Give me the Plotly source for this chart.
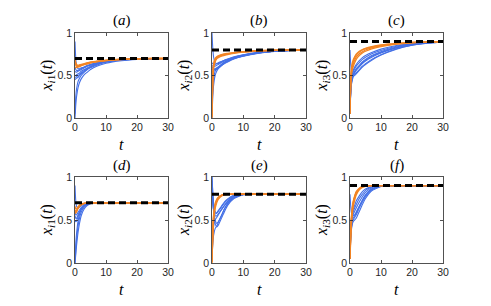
import plotly.graph_objects as go

# time samples
T = [0, 0.25, 0.5, 1, 1.5, 2, 3, 4, 5, 7, 10, 15, 20, 25, 30]
X_TICKS = [0, 10, 20, 30]
Y_TICKS = [0, 0.5, 1]
Y_TICK_LABELS = ["0", "0.5", "1"]
PANEL_TITLES = ["a", "b", "c", "d", "e", "f"]
Y_LABELS = ["1", "2", "3", "1", "2", "3"]
TARGETS = [0.7, 0.8, 0.9, 0.7, 0.8, 0.9]

# panel (a)
A_blue = [
    [0.00, 0.15, 0.25, 0.36, 0.42, 0.46, 0.51, 0.54, 0.57, 0.61, 0.645, 0.675, 0.69, 0.697, 0.70],
    [0.05, 0.25, 0.34, 0.43, 0.47, 0.50, 0.54, 0.57, 0.59, 0.62, 0.655, 0.68, 0.692, 0.698, 0.70],
    [0.45, 0.46, 0.47, 0.48, 0.50, 0.52, 0.55, 0.58, 0.60, 0.63, 0.66, 0.683, 0.694, 0.698, 0.70],
    [0.50, 0.50, 0.51, 0.52, 0.53, 0.55, 0.57, 0.59, 0.61, 0.64, 0.665, 0.686, 0.695, 0.699, 0.70],
    [0.55, 0.54, 0.54, 0.55, 0.56, 0.57, 0.59, 0.61, 0.62, 0.645, 0.67, 0.688, 0.696, 0.699, 0.70],
    [0.90, 0.70, 0.62, 0.58, 0.58, 0.59, 0.60, 0.62, 0.63, 0.65, 0.67, 0.689, 0.697, 0.70, 0.70],
    [0.60, 0.57, 0.56, 0.56, 0.57, 0.58, 0.60, 0.615, 0.63, 0.65, 0.672, 0.69, 0.697, 0.70, 0.70],
    [0.48, 0.48, 0.49, 0.50, 0.51, 0.53, 0.56, 0.58, 0.60, 0.635, 0.662, 0.684, 0.694, 0.698, 0.70],
]
A_orange = [
    [0.70, 0.64, 0.62, 0.61, 0.62, 0.625, 0.635, 0.645, 0.655, 0.665, 0.678, 0.69, 0.697, 0.70, 0.70],
    [0.65, 0.62, 0.61, 0.605, 0.61, 0.62, 0.63, 0.64, 0.65, 0.663, 0.676, 0.689, 0.696, 0.70, 0.70],
    [0.60, 0.59, 0.595, 0.60, 0.605, 0.615, 0.628, 0.638, 0.648, 0.66, 0.675, 0.688, 0.696, 0.699, 0.70],
    [0.68, 0.65, 0.63, 0.62, 0.625, 0.63, 0.64, 0.65, 0.66, 0.668, 0.68, 0.691, 0.697, 0.70, 0.70],
]

# panel (b)
B_blue = [
    [0.00, 0.25, 0.38, 0.50, 0.55, 0.58, 0.62, 0.65, 0.67, 0.70, 0.73, 0.765, 0.785, 0.795, 0.80],
    [1.00, 0.82, 0.72, 0.65, 0.64, 0.64, 0.66, 0.68, 0.69, 0.715, 0.74, 0.77, 0.787, 0.796, 0.80],
    [0.60, 0.59, 0.58, 0.58, 0.59, 0.60, 0.63, 0.655, 0.675, 0.705, 0.735, 0.768, 0.786, 0.795, 0.80],
    [0.62, 0.61, 0.61, 0.61, 0.62, 0.63, 0.65, 0.67, 0.685, 0.71, 0.74, 0.77, 0.787, 0.796, 0.80],
    [0.58, 0.57, 0.57, 0.57, 0.58, 0.59, 0.62, 0.645, 0.665, 0.70, 0.73, 0.765, 0.785, 0.795, 0.80],
    [0.05, 0.35, 0.45, 0.55, 0.58, 0.60, 0.63, 0.655, 0.675, 0.705, 0.735, 0.767, 0.786, 0.795, 0.80],
    [0.65, 0.64, 0.63, 0.63, 0.64, 0.65, 0.665, 0.68, 0.695, 0.72, 0.745, 0.772, 0.788, 0.796, 0.80],
    [0.55, 0.55, 0.55, 0.56, 0.57, 0.585, 0.615, 0.64, 0.66, 0.695, 0.728, 0.763, 0.784, 0.794, 0.80],
]
B_orange = [
    [0.00, 0.45, 0.60, 0.68, 0.71, 0.72, 0.735, 0.745, 0.752, 0.765, 0.777, 0.79, 0.796, 0.799, 0.80],
    [0.02, 0.48, 0.62, 0.69, 0.715, 0.725, 0.74, 0.75, 0.757, 0.768, 0.779, 0.791, 0.797, 0.799, 0.80],
    [0.04, 0.42, 0.58, 0.66, 0.695, 0.71, 0.727, 0.738, 0.747, 0.76, 0.774, 0.788, 0.795, 0.799, 0.80],
    [0.01, 0.50, 0.63, 0.70, 0.72, 0.73, 0.745, 0.755, 0.76, 0.77, 0.78, 0.792, 0.797, 0.80, 0.80],
]

# panel (c)
C_blue = [
    [0.80, 0.62, 0.55, 0.50, 0.50, 0.52, 0.56, 0.60, 0.63, 0.68, 0.74, 0.81, 0.855, 0.88, 0.895],
    [0.05, 0.30, 0.40, 0.48, 0.51, 0.53, 0.57, 0.61, 0.64, 0.69, 0.745, 0.815, 0.857, 0.88, 0.895],
    [0.05, 0.32, 0.42, 0.50, 0.53, 0.56, 0.60, 0.64, 0.67, 0.715, 0.765, 0.825, 0.862, 0.883, 0.896],
    [0.05, 0.34, 0.44, 0.52, 0.55, 0.58, 0.62, 0.66, 0.69, 0.735, 0.78, 0.835, 0.867, 0.886, 0.897],
    [0.05, 0.36, 0.46, 0.54, 0.58, 0.61, 0.65, 0.69, 0.715, 0.755, 0.795, 0.845, 0.872, 0.888, 0.898],
    [0.05, 0.38, 0.48, 0.56, 0.60, 0.63, 0.675, 0.71, 0.735, 0.77, 0.81, 0.852, 0.876, 0.89, 0.898],
    [0.05, 0.33, 0.43, 0.51, 0.54, 0.57, 0.61, 0.65, 0.68, 0.725, 0.772, 0.83, 0.865, 0.885, 0.896],
]
C_orange = [
    [0.05, 0.45, 0.58, 0.66, 0.71, 0.74, 0.775, 0.80, 0.815, 0.835, 0.855, 0.875, 0.888, 0.895, 0.898],
    [0.05, 0.48, 0.60, 0.68, 0.72, 0.75, 0.785, 0.805, 0.82, 0.84, 0.86, 0.878, 0.89, 0.896, 0.899],
    [0.05, 0.42, 0.55, 0.63, 0.68, 0.715, 0.755, 0.78, 0.80, 0.825, 0.848, 0.872, 0.886, 0.894, 0.898],
    [0.05, 0.40, 0.52, 0.60, 0.65, 0.69, 0.735, 0.765, 0.785, 0.812, 0.84, 0.868, 0.884, 0.893, 0.897],
]

# panel (d)
D_blue = [
    [0.00, 0.10, 0.20, 0.36, 0.47, 0.55, 0.63, 0.67, 0.69, 0.70, 0.70, 0.70, 0.70, 0.70, 0.70],
    [0.00, 0.15, 0.27, 0.43, 0.53, 0.59, 0.65, 0.68, 0.695, 0.70, 0.70, 0.70, 0.70, 0.70, 0.70],
    [0.05, 0.22, 0.34, 0.49, 0.57, 0.62, 0.665, 0.685, 0.695, 0.70, 0.70, 0.70, 0.70, 0.70, 0.70],
    [0.90, 0.72, 0.66, 0.64, 0.65, 0.665, 0.685, 0.695, 0.70, 0.70, 0.70, 0.70, 0.70, 0.70, 0.70],
    [0.55, 0.52, 0.52, 0.56, 0.60, 0.63, 0.67, 0.69, 0.697, 0.70, 0.70, 0.70, 0.70, 0.70, 0.70],
    [0.50, 0.48, 0.49, 0.54, 0.59, 0.62, 0.665, 0.687, 0.696, 0.70, 0.70, 0.70, 0.70, 0.70, 0.70],
    [0.60, 0.56, 0.56, 0.59, 0.62, 0.645, 0.675, 0.69, 0.698, 0.70, 0.70, 0.70, 0.70, 0.70, 0.70],
]
D_orange = [
    [0.62, 0.60, 0.61, 0.645, 0.67, 0.68, 0.693, 0.698, 0.70, 0.70, 0.70, 0.70, 0.70, 0.70, 0.70],
    [0.58, 0.58, 0.595, 0.635, 0.66, 0.675, 0.69, 0.697, 0.70, 0.70, 0.70, 0.70, 0.70, 0.70, 0.70],
    [0.66, 0.63, 0.63, 0.655, 0.675, 0.685, 0.695, 0.699, 0.70, 0.70, 0.70, 0.70, 0.70, 0.70, 0.70],
    [0.60, 0.59, 0.60, 0.64, 0.665, 0.678, 0.692, 0.698, 0.70, 0.70, 0.70, 0.70, 0.70, 0.70, 0.70],
]

# panel (e)
E_blue = [
    [1.00, 0.80, 0.65, 0.50, 0.46, 0.48, 0.55, 0.63, 0.69, 0.76, 0.796, 0.80, 0.80, 0.80, 0.80],
    [0.95, 0.75, 0.60, 0.46, 0.42, 0.44, 0.52, 0.60, 0.67, 0.75, 0.794, 0.80, 0.80, 0.80, 0.80],
    [0.90, 0.72, 0.62, 0.55, 0.55, 0.57, 0.62, 0.67, 0.715, 0.775, 0.798, 0.80, 0.80, 0.80, 0.80],
    [1.00, 0.82, 0.70, 0.60, 0.58, 0.60, 0.65, 0.70, 0.735, 0.785, 0.799, 0.80, 0.80, 0.80, 0.80],
    [0.05, 0.30, 0.42, 0.50, 0.53, 0.56, 0.62, 0.67, 0.71, 0.77, 0.797, 0.80, 0.80, 0.80, 0.80],
    [0.85, 0.70, 0.62, 0.57, 0.58, 0.61, 0.66, 0.71, 0.745, 0.787, 0.799, 0.80, 0.80, 0.80, 0.80],
    [0.05, 0.22, 0.32, 0.40, 0.43, 0.47, 0.55, 0.63, 0.69, 0.76, 0.795, 0.80, 0.80, 0.80, 0.80],
]
E_orange = [
    [0.00, 0.35, 0.52, 0.66, 0.72, 0.755, 0.785, 0.795, 0.799, 0.80, 0.80, 0.80, 0.80, 0.80, 0.80],
    [0.02, 0.40, 0.56, 0.69, 0.74, 0.765, 0.79, 0.797, 0.80, 0.80, 0.80, 0.80, 0.80, 0.80, 0.80],
    [0.04, 0.30, 0.48, 0.63, 0.70, 0.74, 0.778, 0.792, 0.798, 0.80, 0.80, 0.80, 0.80, 0.80, 0.80],
    [0.01, 0.38, 0.54, 0.67, 0.73, 0.76, 0.787, 0.796, 0.80, 0.80, 0.80, 0.80, 0.80, 0.80, 0.80],
]

# panel (f)
F_blue = [
    [0.80, 0.65, 0.58, 0.55, 0.56, 0.59, 0.66, 0.73, 0.79, 0.86, 0.895, 0.90, 0.90, 0.90, 0.90],
    [0.05, 0.30, 0.40, 0.48, 0.50, 0.52, 0.60, 0.68, 0.75, 0.84, 0.89, 0.90, 0.90, 0.90, 0.90],
    [0.05, 0.33, 0.44, 0.52, 0.55, 0.58, 0.66, 0.73, 0.79, 0.86, 0.895, 0.90, 0.90, 0.90, 0.90],
    [0.05, 0.36, 0.48, 0.56, 0.60, 0.64, 0.71, 0.77, 0.82, 0.875, 0.898, 0.90, 0.90, 0.90, 0.90],
    [0.05, 0.38, 0.50, 0.59, 0.64, 0.68, 0.75, 0.80, 0.845, 0.885, 0.899, 0.90, 0.90, 0.90, 0.90],
    [0.05, 0.32, 0.42, 0.50, 0.53, 0.56, 0.64, 0.71, 0.77, 0.85, 0.893, 0.90, 0.90, 0.90, 0.90],
    [0.05, 0.40, 0.53, 0.62, 0.67, 0.72, 0.78, 0.83, 0.86, 0.89, 0.90, 0.90, 0.90, 0.90, 0.90],
]
F_orange = [
    [0.05, 0.35, 0.52, 0.68, 0.76, 0.81, 0.86, 0.885, 0.895, 0.90, 0.90, 0.90, 0.90, 0.90, 0.90],
    [0.05, 0.40, 0.56, 0.71, 0.78, 0.83, 0.87, 0.89, 0.897, 0.90, 0.90, 0.90, 0.90, 0.90, 0.90],
    [0.05, 0.30, 0.47, 0.64, 0.73, 0.79, 0.85, 0.878, 0.892, 0.899, 0.90, 0.90, 0.90, 0.90, 0.90],
    [0.05, 0.38, 0.54, 0.70, 0.77, 0.82, 0.865, 0.887, 0.896, 0.90, 0.90, 0.90, 0.90, 0.90, 0.90],
]

BLUES = [A_blue, B_blue, C_blue, D_blue, E_blue, F_blue]
ORANGES = [A_orange, B_orange, C_orange, D_orange, E_orange, F_orange]

BLUE = "#4470E6"
ORANGE = "#F28424"
W, H = 491, 306
COL_PX = [(75, 168), (212, 306), (350, 443)]
ROW_PX = [(33, 118), (177, 263)]
SERIF = "Liberation Serif, DejaVu Serif, serif"
SANS = "Liberation Sans, Arial, sans-serif"

fig = go.Figure()
annotations = []
for i in range(6):
    r, c = divmod(i, 3)
    xa = "x" if i == 0 else f"x{i+1}"
    ya = "y" if i == 0 else f"y{i+1}"
    x0, x1 = COL_PX[c]
    y0, y1 = ROW_PX[r]
    dom_x = [x0 / W, x1 / W]
    dom_y = [1 - y1 / H, 1 - y0 / H]
    axis_common = dict(
        showline=True, linecolor="#262626", linewidth=0.8, mirror="ticks",
        ticks="inside", ticklen=3, tickwidth=0.8, tickcolor="#262626",
        showgrid=False, zeroline=False, automargin=False,
        tickfont=dict(family=SANS, size=10.5, color="#262626"),
    )
    fig.layout[("xaxis" if i == 0 else f"xaxis{i+1}")] = dict(
        domain=dom_x, range=[0, 30], tickvals=X_TICKS, anchor=ya, **axis_common)
    fig.layout[("yaxis" if i == 0 else f"yaxis{i+1}")] = dict(
        domain=dom_y, range=[0, 1], tickvals=Y_TICKS, ticktext=Y_TICK_LABELS,
        anchor=xa, **axis_common)

    for y in BLUES[i]:
        fig.add_trace(go.Scatter(x=T, y=y, mode="lines", xaxis=xa, yaxis=ya,
                                 line=dict(color=BLUE, width=1.1, shape="spline", smoothing=0.5),
                                 showlegend=False, hoverinfo="skip"))
    for y in ORANGES[i]:
        fig.add_trace(go.Scatter(x=T, y=y, mode="lines", xaxis=xa, yaxis=ya,
                                 line=dict(color=ORANGE, width=1.3, shape="spline", smoothing=0.5),
                                 showlegend=False, hoverinfo="skip"))
    fig.add_trace(go.Scatter(x=[0, 30], y=[TARGETS[i], TARGETS[i]], mode="lines",
                             xaxis=xa, yaxis=ya,
                             line=dict(color="black", width=3, dash="7px,4px"),
                             showlegend=False, hoverinfo="skip"))

    cx = (x0 + x1) / 2 / W
    annotations.append(dict(text=f"(<i>{PANEL_TITLES[i]}</i>)", x=cx, y=1 - (y0 - 12) / H,
                            xref="paper", yref="paper", showarrow=False,
                            font=dict(family=SERIF, size=15, color="black"),
                            xanchor="center", yanchor="middle"))
    annotations.append(dict(text="<i>t</i>", x=cx, y=1 - (y1 + 26) / H,
                            xref="paper", yref="paper", showarrow=False,
                            font=dict(family=SERIF, size=16, color="black"),
                            xanchor="center", yanchor="middle"))
    annotations.append(dict(text=f"<i>x</i><sub><i>i</i>{Y_LABELS[i]}</sub>(<i>t</i>)",
                            x=(x0 - 28) / W, y=1 - (y0 + y1) / 2 / H,
                            xref="paper", yref="paper", showarrow=False, textangle=-90,
                            font=dict(family=SERIF, size=16, color="black"),
                            xanchor="center", yanchor="middle"))

fig.update_layout(width=W, height=H, margin=dict(l=0, r=0, t=0, b=0),
                  paper_bgcolor="white", plot_bgcolor="white",
                  annotations=annotations, showlegend=False)
fig.write_html("out.html", config={"displayModeBar": False, "staticPlot": True})

# remove the browser's default page margin so the figure sits at (0, 0)
with open("out.html", "r", encoding="utf-8") as f:
    html = f.read()
html = html.replace("<head>", "<head><style>html,body{margin:0;padding:0;overflow:hidden;}</style>", 1)
with open("out.html", "w", encoding="utf-8") as f:
    f.write(html)
